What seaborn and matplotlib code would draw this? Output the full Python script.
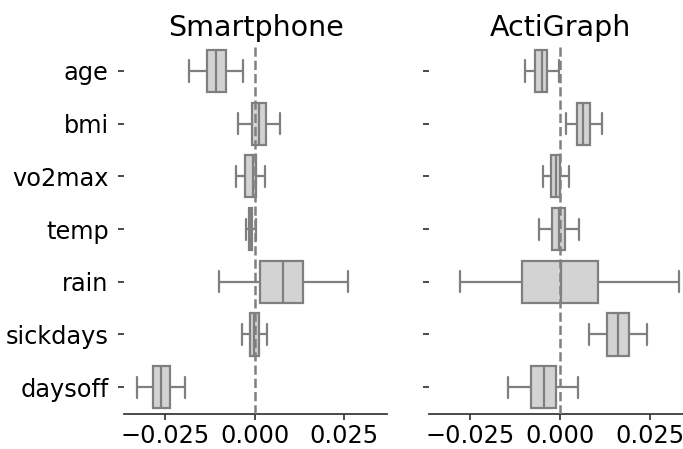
import numpy as np
import pandas as pd
import matplotlib
matplotlib.use("Agg")
import matplotlib.pyplot as plt
import seaborn as sns

categories = ["age", "bmi", "vo2max", "temp", "rain", "sickdays", "daysoff"]
panels = ["Smartphone", "ActiGraph"]

# five-number summaries per category: [whisker low, Q1, median, Q3, whisker high]
smartphone_stats = [
    [-0.0183, -0.0134, -0.0107, -0.0081, -0.0032],
    [-0.0047, -0.0008, 0.0011, 0.0033, 0.0071],
    [-0.0051, -0.0026, -0.0005, 0.0003, 0.0028],
    [-0.0025, -0.0016, -0.0011, -0.0006, 0.0004],
    [-0.0098, 0.0015, 0.0078, 0.0136, 0.0260],
    [-0.0036, -0.0013, -0.0001, 0.0012, 0.0034],
    [-0.0329, -0.0283, -0.0261, -0.0237, -0.0193],
]
actigraph_stats = [
    [-0.0097, -0.0069, -0.0049, -0.0037, -0.0002],
    [0.0018, 0.0047, 0.0065, 0.0083, 0.0117],
    [-0.0046, -0.0024, -0.0012, -0.0001, 0.0025],
    [-0.0058, -0.0023, -0.0003, 0.0013, 0.0053],
    [-0.0279, -0.0107, 0.0004, 0.0106, 0.0331],
    [0.0081, 0.0132, 0.0163, 0.0193, 0.0244],
    [-0.0144, -0.0080, -0.0045, -0.0010, 0.0050],
]
xticks = [-0.025, 0.0, 0.025]

sns.set_theme(style="ticks")
plt.rcParams["font.family"] = ["DejaVu Sans"]
plt.rcParams["text.color"] = "black"
plt.rcParams["xtick.color"] = "black"
plt.rcParams["ytick.color"] = "black"
plt.rcParams["axes.labelcolor"] = "black"

def to_frame(stats):
    rows = []
    for cat, vals in zip(categories, stats):
        for v in vals:
            rows.append({"variable": cat, "coef": v})
    return pd.DataFrame(rows)

W, H = 683, 449
fig = plt.figure(figsize=(W / 100, H / 100), dpi=100)
ax_w = 263 / W
ax_b = (H - 413.5) / H
ax_h = (413.5 - 44.65) / H
ax1 = fig.add_axes([124 / W, ax_b, ax_w, ax_h])
ax2 = fig.add_axes([429.3 / W, ax_b, ax_w, ax_h], sharex=ax1, sharey=ax1)

for ax, title, stats in zip([ax1, ax2], panels, [smartphone_stats, actigraph_stats]):
    df = to_frame(stats)
    sns.boxplot(data=df, x="coef", y="variable", order=categories, ax=ax,
                color="lightgray", linecolor="gray", linewidth=1.6,
                whis=(0, 100), width=0.8, showfliers=False, saturation=1)
    ax.axvline(0, color="gray", linestyle="--", linewidth=1.8, zorder=5)
    ax.set_title(title, fontsize=20.5, color="black")
    ax.set_xlabel("")
    ax.set_ylabel("")
    ax.set_xticks(xticks)
    ax.tick_params(axis="both", labelsize=17.3, length=4, color="#333333",
                   labelcolor="black")
    ax.tick_params(axis="y", pad=7)
    ax.spines["bottom"].set_color("#333333")
    sns.despine(ax=ax, left=True)

ax1.set_xlim(-0.0364, 0.0369)
ax2.tick_params(axis="y", labelleft=False)

fig.savefig("out.png", dpi=100)
